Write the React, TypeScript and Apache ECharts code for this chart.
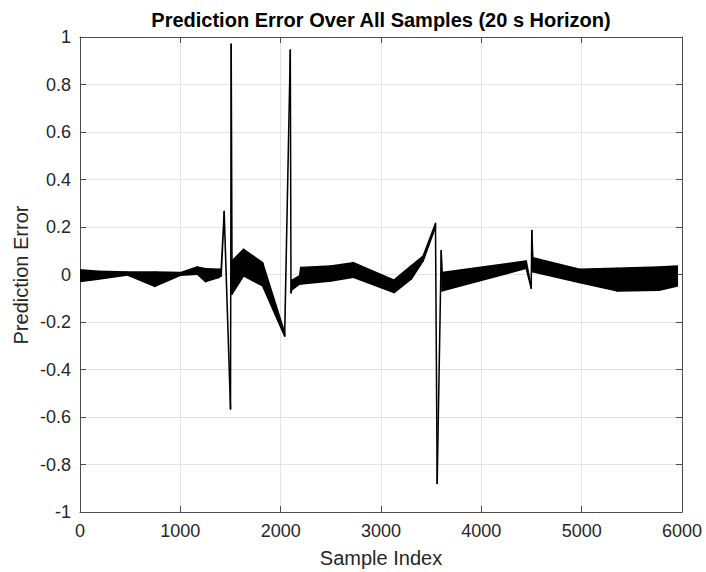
import React, { useEffect, useRef } from "react";
import * as echarts from "echarts";

// Sample index of each vertex of the error envelope
const sampleIdx = [0, 175, 474, 745, 1000, 1169, 1252, 1381, 1407, 1437, 1500, 1507, 1515, 1630, 1820, 2040, 2096, 2103, 2110, 2190, 2200, 2500, 2725, 3130, 3300, 3420, 3543, 3560, 3600, 3610, 4447, 4497, 4503, 4513, 4977, 5350, 5771, 5953];
// Upper edge of the prediction error band
const upperErr = [0.02, 0.014, 0.011, 0.011, 0.008, 0.032, 0.024, 0.022, 0.022, 0.265, -0.56, 0.97, 0.057, 0.106, 0.05, -0.245, 0.945, -0.075, -0.025, -0.005, 0.03, 0.036, 0.05, -0.024, 0.036, 0.078, 0.215, -0.875, 0.1, 0.008, 0.057, -0.052, 0.185, 0.071, 0.022, 0.026, 0.032, 0.036];
// Lower edge of the prediction error band
const lowerErr = [-0.03, -0.02, -0.002, -0.05, -0.003, 0.001, -0.03, -0.013, -0.006, 0.255, -0.566, 0.962, -0.083, -0.006, -0.048, -0.26, 0.938, -0.077, -0.065, -0.04, -0.04, -0.027, -0.012, -0.076, -0.02, 0.057, 0.2, -0.88, 0.095, -0.069, 0.026, -0.058, 0.18, 0.012, -0.034, -0.069, -0.066, -0.048];

const xTicks = { min: 0, max: 6000, interval: 1000 };
const yTicks = { min: -1, max: 1, interval: 0.2 };

const titleText = "Prediction Error Over All Samples (20 s Horizon)";
const xLabel = "Sample Index";
const yLabel = "Prediction Error";

const FONT = "'Liberation Sans', Arial, Helvetica, sans-serif";
const TXT = "#262626";
const AX = "#4d4d4d";
const GRID = "#e3e3e3";

export default function App() {
  const ref = useRef<HTMLDivElement>(null);
  useEffect(() => {
    document.body.style.margin = "0";
    if (!ref.current) return;
    const chart = echarts.init(ref.current, undefined, { renderer: "svg" });
    const bandData = sampleIdx.map((x, i) => [x, lowerErr[i], upperErr[i]]);
    const n = sampleIdx.length;
    const fmtY = (v: number) => String(Math.round(v * 10) / 10);
    const baseX = {
      type: "value",
      min: xTicks.min,
      max: xTicks.max,
      interval: xTicks.interval,
    };
    const baseY = {
      type: "value",
      min: yTicks.min,
      max: yTicks.max,
      interval: yTicks.interval,
    };
    const renderItem = (params: any, api: any) => {
      const i = params.dataIndex;
      if (i >= n - 1) return null;
      const u0 = api.coord([sampleIdx[i], upperErr[i]]);
      const u1 = api.coord([sampleIdx[i + 1], upperErr[i + 1]]);
      const l1 = api.coord([sampleIdx[i + 1], lowerErr[i + 1]]);
      const l0 = api.coord([sampleIdx[i], lowerErr[i]]);
      return {
        type: "polygon",
        shape: { points: [u0, u1, l1, l0] },
        style: { fill: "#000", stroke: "#000", lineWidth: 1.5, lineJoin: "round" },
      };
    };
    chart.setOption({
      animation: false,
      backgroundColor: "#ffffff",
      grid: { left: 80, right: 24, top: 37, bottom: 60, containLabel: false },
      xAxis: [
        {
          ...baseX,
          position: "bottom",
          axisLine: { show: true, onZero: false, lineStyle: { color: AX, width: 1 } },
          axisTick: { show: true, inside: true, length: 6, lineStyle: { color: AX } },
          axisLabel: { color: TXT, fontSize: 18, fontFamily: FONT, margin: 10, formatter: (v: number) => String(v) },
          splitLine: { show: true, lineStyle: { color: GRID, width: 1 } },
        },
        {
          ...baseX,
          position: "top",
          axisLine: { show: true, onZero: false, lineStyle: { color: AX, width: 1 } },
          axisTick: { show: true, inside: true, length: 6, lineStyle: { color: AX } },
          axisLabel: { show: false },
          splitLine: { show: false },
        },
      ],
      yAxis: [
        {
          ...baseY,
          position: "left",
          axisLine: { show: true, onZero: false, lineStyle: { color: AX, width: 1 } },
          axisTick: { show: true, inside: true, length: 6, lineStyle: { color: AX } },
          axisLabel: { color: TXT, fontSize: 18, fontFamily: FONT, margin: 9, formatter: fmtY },
          splitLine: { show: true, lineStyle: { color: GRID, width: 1 } },
        },
        {
          ...baseY,
          position: "right",
          axisLine: { show: true, onZero: false, lineStyle: { color: AX, width: 1 } },
          axisTick: { show: true, inside: true, length: 6, lineStyle: { color: AX } },
          axisLabel: { show: false },
          splitLine: { show: false },
        },
      ],
      series: [
        {
          type: "custom",
          name: "Prediction Error",
          data: bandData,
          dimensions: ["x", "lower", "upper"],
          encode: { x: 0, y: [1, 2] },
          renderItem,
          clip: true,
          z: 3,
        },
      ],
      graphic: [
        {
          type: "text",
          x: 381,
          y: 20,
          style: {
            text: titleText,
            fontFamily: FONT,
            fontSize: 20,
            fontWeight: "bold",
            fill: "#000",
            textAlign: "center",
            textVerticalAlign: "middle",
          },
        },
        {
          type: "text",
          x: 381,
          y: 558,
          style: {
            text: xLabel,
            fontFamily: FONT,
            fontSize: 20,
            fill: TXT,
            textAlign: "center",
            textVerticalAlign: "middle",
          },
        },
        {
          type: "text",
          x: 21,
          y: 275,
          rotation: Math.PI / 2,
          style: {
            text: yLabel,
            fontFamily: FONT,
            fontSize: 20,
            fill: TXT,
            textAlign: "center",
            textVerticalAlign: "middle",
          },
        },
      ],
    });
    return () => chart.dispose();
  }, []);
  return <div ref={ref} style={{ width: 706, height: 572 }} />;
}
